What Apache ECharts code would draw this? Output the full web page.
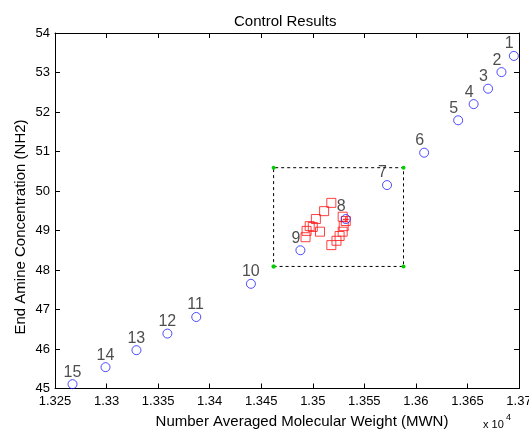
<!DOCTYPE html>
<html>
<head>
<meta charset="utf-8">
<script src="https://cdn.jsdelivr.net/npm/echarts@6/dist/echarts.min.js"></script>
<style>
  html, body { margin: 0; padding: 0; background: #fff; }
  #container1 { width: 529px; height: 430px; }
</style>
</head>
<body>
<div id="container1"></div>
<script>
// numbered run points (MWN in units of 1e4)
var pointNames = ['1','2','3','4','5','6','7','8','9','10','11','12','13','14','15'];
var pointMwn = [1.3695, 1.3683, 1.3670, 1.3656, 1.3641, 1.3608, 1.3572, 1.3532, 1.3488, 1.3440, 1.3387, 1.3359, 1.3329, 1.3299, 1.3267];
var pointNh2 = [53.42, 53.01, 52.59, 52.20, 51.79, 50.97, 50.15, 49.29, 48.50, 47.65, 46.81, 46.39, 45.97, 45.54, 45.11];

// control results (red squares)
var ctrlMwn = [1.3518, 1.3511, 1.3503, 1.3500, 1.3497, 1.3494, 1.3493, 1.3507,
               1.3529, 1.3532, 1.3530, 1.3529, 1.3526, 1.3523, 1.3518];
var ctrlNh2 = [49.70, 49.49, 49.29, 49.09, 49.11, 48.99, 48.83, 48.97,
               49.35, 49.24, 49.11, 48.97, 48.86, 48.74, 48.63];

// target point and control window
var targetMwn = [1.3532];
var targetNh2 = [49.28];
var boxMwn = [1.3462, 1.3588];
var boxNh2 = [48.09, 50.59];

var xTicks = { min: 1.325, max: 1.37, step: 0.005 };
var yTicks = { min: 45, max: 54, step: 1 };

function createChart(){
  var dom = document.getElementById("container1");
  var myChart = echarts.init(dom);

  var ptData = pointMwn.map(function (x, i) { return [x, pointNh2[i], pointNames[i]]; });
  var ctrlData = ctrlMwn.map(function (x, i) { return [x, ctrlNh2[i]]; });
  var boxData = [
    [boxMwn[0], boxNh2[0]], [boxMwn[1], boxNh2[0]],
    [boxMwn[1], boxNh2[1]], [boxMwn[0], boxNh2[1]],
    [boxMwn[0], boxNh2[0]]
  ];

  var axisBase = {
    axisLine: { show: true, onZero: false, lineStyle: { color: '#000', width: 1 } },
    axisTick: { show: true, inside: true, length: 5, lineStyle: { color: '#000' } },
    splitLine: { show: false }
  };
  var font = 'Liberation Sans, Arial, sans-serif';

  var option = {
    animation: false,
    backgroundColor: '#fff',
    title: {
      text: 'Control Results',
      left: 229,
      top: 9,
      textStyle: { fontFamily: font, fontSize: 15, fontWeight: 'normal', color: '#000' }
    },
    grid: { left: 55, right: 10, top: 33, bottom: 41.5, outerBoundsMode: 'none', containLabel: false },
    xAxis: [
      Object.assign({
        type: 'value', position: 'bottom',
        min: xTicks.min, max: xTicks.max, interval: xTicks.step,
        axisLabel: { margin: 6, fontFamily: font, fontSize: 13, color: '#000', hideOverlap: false }
      }, axisBase),
      Object.assign({
        type: 'value', position: 'top',
        min: xTicks.min, max: xTicks.max, interval: xTicks.step,
        axisLabel: { show: false }
      }, axisBase)
    ],
    yAxis: [
      Object.assign({
        type: 'value', position: 'left',
        min: yTicks.min, max: yTicks.max, interval: yTicks.step,
        axisLabel: { margin: 5, fontFamily: font, fontSize: 13, color: '#000' }
      }, axisBase),
      Object.assign({
        type: 'value', position: 'right',
        min: yTicks.min, max: yTicks.max, interval: yTicks.step,
        axisLabel: { show: false }
      }, axisBase)
    ],
    series: [
      {
        type: 'line',
        data: boxData,
        symbol: 'circle',
        symbolSize: 4,
        itemStyle: { color: '#00d000' },
        lineStyle: { color: '#000', width: 1, type: [3, 3] },
        z: 1
      },
      {
        type: 'scatter',
        data: ctrlData,
        symbol: 'rect',
        symbolSize: 9,
        itemStyle: { color: 'rgba(0,0,0,0)', borderColor: '#ff1010', borderWidth: 1 },
        z: 2
      },
      {
        type: 'scatter',
        data: ptData,
        symbol: 'circle',
        symbolSize: 9,
        itemStyle: { color: 'rgba(0,0,0,0)', borderColor: '#2020ff', borderWidth: 1 },
        label: {
          show: true,
          formatter: function (p) { return p.value[2]; },
          position: [-4, 1],
          align: 'left',
          verticalAlign: 'bottom',
          fontFamily: font,
          fontSize: 16,
          color: '#222'
        },
        z: 3
      },
      {
        type: 'scatter',
        data: targetMwn.map(function (x, i) { return [x, targetNh2[i]]; }),
        symbol: 'path://M4,0L6,0L6,4L10,4L10,6L6,6L6,10L4,10L4,6L0,6L0,4L4,4Z',
        symbolSize: 6,
        itemStyle: { color: '#ff0000' },
        z: 4
      }
    ],
    graphic: [
      {
        type: 'text',
        x: 302, y: 422,
        style: {
          text: 'Number Averaged Molecular Weight (MWN)',
          font: '15px ' + font, fill: '#000',
          align: 'center', verticalAlign: 'middle'
        }
      },
      {
        type: 'text',
        x: 21, y: 227,
        rotation: Math.PI / 2,
        style: {
          text: 'End Amine Concentration (NH2)',
          font: '15px ' + font, fill: '#000',
          align: 'center', verticalAlign: 'middle'
        }
      },
      {
        type: 'text',
        x: 483, y: 425,
        style: { text: 'x 10', font: '11px ' + font, fill: '#000', verticalAlign: 'middle' }
      },
      {
        type: 'text',
        x: 506, y: 418,
        style: { text: '4', font: '9px ' + font, fill: '#000', verticalAlign: 'middle' }
      }
    ]
  };

  myChart.setOption(option);
}
createChart();
</script>
</body>
</html>
